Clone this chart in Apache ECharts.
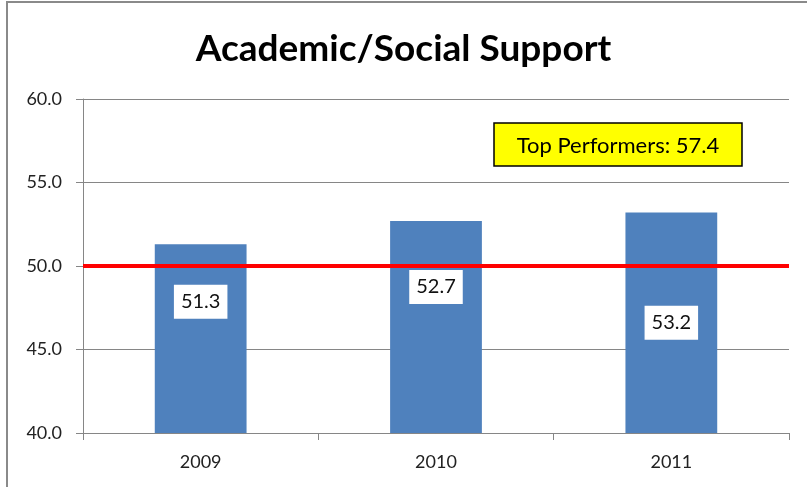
<!DOCTYPE html>
<html>
<head>
<meta charset="utf-8">
<script src="https://cdn.jsdelivr.net/npm/echarts@6/dist/echarts.min.js"></script>
<style>
  html, body { margin: 0; padding: 0; background: #fff; }
  #chart { width: 807px; height: 487px; }
</style>
</head>
<body>
<div id="chart"></div>
<script>
// data
const years = ['2009', '2010', '2011'];
const scores = [51.3, 52.7, 53.2];
const benchmark = 50;
const topPerformers = 57.4;
const yTicks = [40, 45, 50, 55, 60];

// hand placed value boxes (offsets in px, like the original)
const labelOffsets = [[0, -37], [0, -40], [0, 0]];

const chart = echarts.init(document.getElementById('chart'));

chart.setOption({
  animation: false,
  title: {
    text: 'Academic/Social Support',
    left: 'center',
    top: 26,
    textStyle: { fontFamily: 'Lato', fontWeight: 'bold', fontSize: 37, color: '#000' }
  },
  grid: { left: 83, right: 18, top: 99, bottom: 54 },
  xAxis: {
    type: 'category',
    data: years,
    axisLine: { lineStyle: { color: '#868686', width: 1 } },
    axisTick: { show: true, length: 7, lineStyle: { color: '#868686' } },
    axisLabel: { margin: 20, fontFamily: 'Lato', fontSize: 18, color: '#222' }
  },
  yAxis: {
    type: 'value',
    min: yTicks[0],
    max: yTicks[yTicks.length - 1],
    interval: 5,
    axisLine: { show: true, lineStyle: { color: '#868686' } },
    axisTick: { show: true, length: 7, lineStyle: { color: '#868686' } },
    axisLabel: { margin: 21, fontFamily: 'Lato', fontSize: 18, color: '#222',
      formatter: v => v.toFixed(1) },
    splitLine: { lineStyle: { color: '#868686', width: 1 } }
  },
  series: [{
    type: 'bar',
    barWidth: '39%',
    itemStyle: { color: '#4F81BD' },
    data: scores.map((v, i) => ({
      value: v,
      label: { offset: labelOffsets[i] }
    })),
    label: {
      show: true,
      position: 'inside',
      backgroundColor: '#fff',
      padding: [8, 7, 6, 7],
      fontFamily: 'Lato',
      fontSize: 20,
      color: '#111',
      formatter: p => p.value.toFixed(1)
    },
    markLine: {
      silent: true,
      symbol: 'none',
      label: { show: false },
      lineStyle: { color: '#ff0000', width: 4, type: 'solid' },
      data: [{ yAxis: benchmark }]
    }
  }],
  graphic: [
    {
      type: 'rect',
      shape: { x: 7, y: 2, width: 900, height: 600 },
      style: { fill: 'none', stroke: '#8a8a8a', lineWidth: 2 },
      silent: true
    },
    {
      type: 'rect',
      shape: { x: 494, y: 123, width: 248, height: 43 },
      style: { fill: '#ffff00', stroke: '#000', lineWidth: 1.5 },
      z: 10
    },
    {
      type: 'text',
      x: 618,
      y: 146,
      style: {
        text: 'Top Performers: ' + topPerformers.toFixed(1),
        fontFamily: 'Lato',
        fontSize: 22,
        fill: '#000',
        align: 'center',
        verticalAlign: 'middle'
      },
      z: 11
    }
  ]
});
</script>
</body>
</html>
